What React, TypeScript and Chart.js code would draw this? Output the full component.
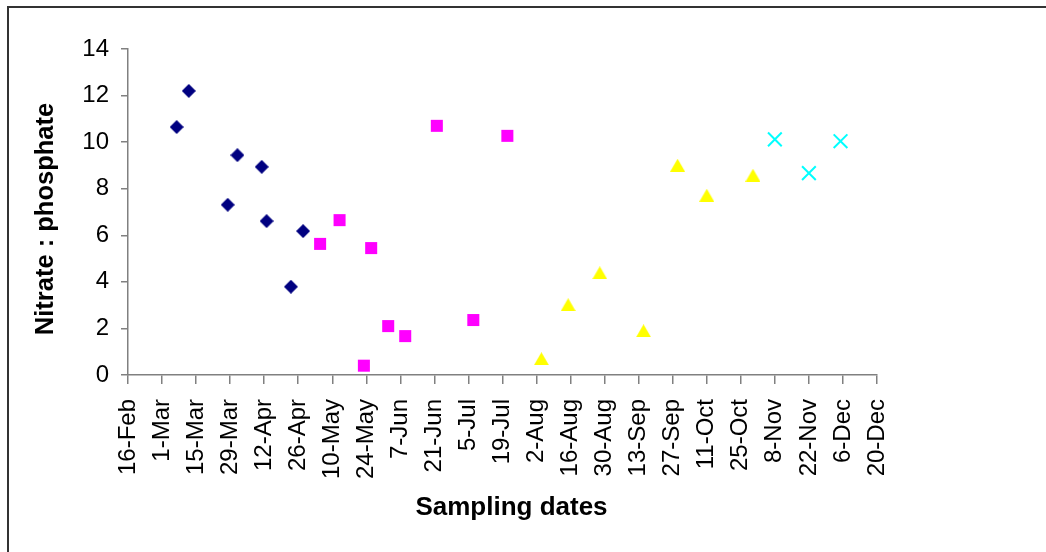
import React, { useEffect, useRef } from "react";
import { Chart, registerables } from "chart.js";

Chart.register(...registerables);

// Sampling dates (year 2004 assumed; axis starts 16-Feb, ticks every 14 days)
const START_DATE = "2004-02-16";
const AXIS_DAYS = 308;
const TICK_STEP_DAYS = 14;
const MONTHS = ["Jan", "Feb", "Mar", "Apr", "May", "Jun", "Jul", "Aug", "Sep", "Oct", "Nov", "Dec"];

const springDates = ["2004-03-07", "2004-03-12", "2004-03-28", "2004-04-01", "2004-04-11", "2004-04-13", "2004-04-23", "2004-04-28"];
const springValues = [10.65, 12.2, 7.31, 9.44, 8.94, 6.61, 3.79, 6.18];

const summerDates = ["2004-05-05", "2004-05-13", "2004-05-23", "2004-05-26", "2004-06-02", "2004-06-09", "2004-06-22", "2004-07-07", "2004-07-21"];
const summerValues = [5.63, 6.65, 0.4, 5.45, 2.1, 1.67, 10.7, 2.36, 10.27];

const autumnDates = ["2004-08-04", "2004-08-15", "2004-08-28", "2004-09-15", "2004-09-29", "2004-10-11", "2004-10-30"];
const autumnValues = [0.7, 3.02, 4.39, 1.9, 9.01, 7.72, 8.58];

const winterDates = ["2004-11-08", "2004-11-22", "2004-12-05"];
const winterValues = [10.12, 8.67, 10.04];

const Y_MIN = 0;
const Y_MAX = 14;
const Y_STEP = 2;

const X_TITLE = "Sampling dates";
const Y_TITLE = "Nitrate : phosphate";

function dayOffset(iso: string): number {
  const [y, m, d] = iso.split("-").map(Number);
  const [sy, sm, sd] = START_DATE.split("-").map(Number);
  return Math.round((Date.UTC(y, m - 1, d) - Date.UTC(sy, sm - 1, sd)) / 86400000);
}

function tickLabel(v: number): string {
  const [sy, sm, sd] = START_DATE.split("-").map(Number);
  const dt = new Date(Date.UTC(sy, sm - 1, sd + v));
  return `${dt.getUTCDate()}-${MONTHS[dt.getUTCMonth()]}`;
}

function toPoints(dates: string[], values: number[]) {
  return dates.map((d, i) => ({ x: dayOffset(d), y: values[i] }));
}

function makeTriangle(color: string): HTMLCanvasElement {
  const c = document.createElement("canvas");
  c.width = 15;
  c.height = 13;
  const ctx = c.getContext("2d")!;
  ctx.fillStyle = color;
  ctx.beginPath();
  ctx.moveTo(7.5, 0);
  ctx.lineTo(15, 13);
  ctx.lineTo(0, 13);
  ctx.closePath();
  ctx.fill();
  return c;
}

function makeDiamond(color: string): HTMLCanvasElement {
  const c = document.createElement("canvas");
  c.width = 14;
  c.height = 14;
  const ctx = c.getContext("2d")!;
  ctx.fillStyle = color;
  ctx.beginPath();
  ctx.moveTo(7, 0);
  ctx.lineTo(14, 7);
  ctx.lineTo(7, 14);
  ctx.lineTo(0, 7);
  ctx.closePath();
  ctx.fill();
  return c;
}

const FONT = '"Liberation Sans", Arial, sans-serif';

export default function App() {
  const ref = useRef<HTMLCanvasElement | null>(null);

  useEffect(() => {
    if (!ref.current) return;
    const titlePlugin = {
      id: "axisTitles",
      afterDraw(chart: any) {
        const ctx = chart.ctx as CanvasRenderingContext2D;
        const area = chart.chartArea;
        ctx.save();
        ctx.fillStyle = "#000";
        ctx.textAlign = "center";
        ctx.textBaseline = "alphabetic";
        ctx.font = `bold 26px ${FONT}`;
        ctx.fillText(X_TITLE, (area.left + area.right) / 2 + 9, 515);
        ctx.translate(52.5, (area.top + area.bottom) / 2 + 7);
        ctx.rotate(-Math.PI / 2);
        ctx.font = `bold 25.5px ${FONT}`;
        ctx.fillText(Y_TITLE, 0, 0);
        ctx.restore();
      },
    };

    const chart = new Chart(ref.current, {
      type: "scatter",
      data: {
        datasets: [
          {
            label: "Spring",
            data: toPoints(springDates, springValues),
            pointStyle: makeDiamond("#000080") as any,
            pointRadius: 7,
            pointHoverRadius: 7,
            backgroundColor: "#000080",
            borderColor: "#000080",
            borderWidth: 0,
          },
          {
            label: "Summer",
            data: toPoints(summerDates, summerValues),
            pointStyle: "rect",
            pointRadius: 8.5,
            pointHoverRadius: 8.5,
            backgroundColor: "#FF00FF",
            borderColor: "#FF00FF",
            borderWidth: 0,
          },
          {
            label: "Autumn",
            data: toPoints(autumnDates, autumnValues),
            pointStyle: makeTriangle("#FFFF00") as any,
            pointRadius: 8,
            pointHoverRadius: 8,
            backgroundColor: "#FFFF00",
            borderColor: "#FFFF00",
            borderWidth: 0,
          },
          {
            label: "Winter",
            data: toPoints(winterDates, winterValues),
            pointStyle: "crossRot",
            pointRadius: 9.7,
            pointHoverRadius: 9.7,
            backgroundColor: "#00FFFF",
            borderColor: "#00FFFF",
            borderWidth: 2,
          },
        ],
      },
      options: {
        animation: false,
        responsive: false,
        maintainAspectRatio: false,
        devicePixelRatio: 1,
        layout: { padding: { left: 0, top: 49, right: 169, bottom: 0 } },
        plugins: {
          legend: { display: false },
          tooltip: { enabled: false },
          title: { display: false },
        },
        scales: {
          x: {
            type: "linear",
            min: 0,
            max: AXIS_DAYS,
            afterFit: (s: any) => {
              s.height = 177;
            },
            afterBuildTicks: (s: any) => {
              const t = [];
              for (let v = 0; v <= AXIS_DAYS; v += TICK_STEP_DAYS) t.push({ value: v });
              s.ticks = t;
            },
            ticks: {
              autoSkip: false,
              minRotation: 90,
              maxRotation: 90,
              padding: 15,
              color: "#000",
              font: { family: FONT, size: 24 },
              callback: (v: any) => tickLabel(Number(v)),
            },
            grid: {
              drawOnChartArea: false,
              drawTicks: true,
              tickLength: 9,
              color: "#808080",
              lineWidth: 1.5,
            },
            border: { display: true, color: "#808080", width: 1.5 },
          },
          y: {
            min: Y_MIN,
            max: Y_MAX,
            afterFit: (s: any) => {
              s.width = 128;
            },
            ticks: {
              stepSize: Y_STEP,
              padding: 12,
              color: "#000",
              font: { family: FONT, size: 24 },
            },
            grid: {
              drawOnChartArea: false,
              drawTicks: true,
              tickLength: 7,
              color: "#808080",
              lineWidth: 1.5,
            },
            border: { display: true, color: "#808080", width: 1.5 },
          },
        },
      },
      plugins: [titlePlugin],
    } as any);
    return () => chart.destroy();
  }, []);

  return (
    <div style={{ position: "fixed", left: 0, top: 0, width: 1046, height: 552, background: "#fff", overflow: "hidden" }}>
      <canvas ref={ref} width={1046} height={552} style={{ position: "absolute", left: 0, top: 0, display: "block" }} />
      <div
        style={{
          position: "absolute",
          left: 7,
          top: 6,
          width: 1100,
          height: 600,
          borderLeft: "2px solid #333",
          borderTop: "2px solid #333",
          pointerEvents: "none",
        }}
      />
    </div>
  );
}
